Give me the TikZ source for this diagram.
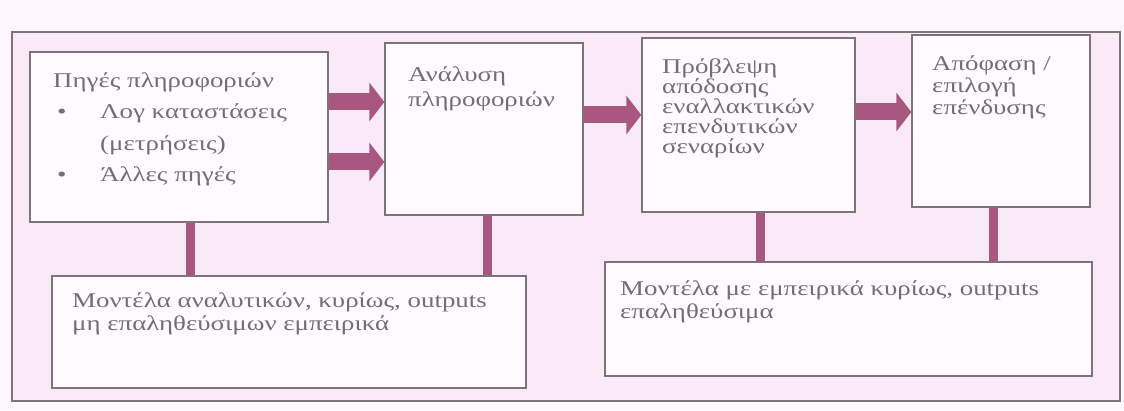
\documentclass[tikz,border=0pt]{standalone}
\usepackage{fontspec}
\setmainfont{Liberation Serif}
\newfontfamily\scanfont{Liberation Serif}[FakeStretch=1.28]
\usetikzlibrary{arrows.meta}
\begin{document}
\begin{tikzpicture}[
    x=1pt, y=1pt,
    box/.style={draw=boxline, fill=boxfill, line width=1.3pt, inner sep=0pt},
    txt/.style={anchor=north west, inner sep=0pt, text=txtgray, align=left,
        font=\scanfont\fontsize{21}{#1}\selectfont},
    txt/.default=22,
    fatarrow/.style={draw=mauve, line width=17pt, -{Triangle[length=15pt, width=38pt]}},
    link/.style={draw=mauve, line width=9pt}
]

% Colours of the scanned page
\definecolor{pagebg}{RGB}{253, 246, 252}
\definecolor{framebg}{RGB}{250, 233, 246}
\definecolor{boxfill}{RGB}{254, 250, 253}
\definecolor{boxline}{RGB}{125, 115, 122}
\definecolor{txtgray}{RGB}{115, 110, 115}
\definecolor{mauve}{RGB}{168, 88, 128}

% Page and outer frame
\fill[pagebg] (0, 0) rectangle (1124, 410);
\useasboundingbox (0, 0) rectangle (1124, 410);
\draw[boxline, fill=framebg, line width=1.3pt] (12, 9) rectangle (1120, 378);

% Top row of steps
\node[box, minimum width=298pt, minimum height=170pt] (b1) at (179, 273) {};
\node[box, minimum width=198pt, minimum height=172pt] (b2) at (484, 281) {};
\node[box, minimum width=213pt, minimum height=174pt] (b3) at (748.5, 285) {};
\node[box, minimum width=178pt, minimum height=172pt] (b4) at (1001, 289) {};

% Bottom row of models
\node[box, minimum width=474pt, minimum height=112pt] (m1) at (289, 78) {};
\node[box, minimum width=487pt, minimum height=114pt] (m2) at (848.5, 91) {};

% Texts
\node[txt=31.5] (b1t) at (53, 338) {Πηγές πληροφοριών\\
    \hspace*{4pt}\makebox[43pt][l]{•}Λογ καταστάσεις\\
    \hspace*{47pt}(μετρήσεις)\\
    \hspace*{4pt}\makebox[43pt][l]{•}Άλλες πηγές};
\node[txt=25] (b2t) at (408, 344) {Ανάλυση\\πληροφοριών};
\node[txt=20] (b3t) at (662, 352) {Πρόβλεψη\\απόδοσης\\εναλλακτικών\\επενδυτικών\\σεναρίων};
\node[txt] (b4t) at (932, 355) {Απόφαση /\\επιλογή\\επένδυσης};
\node[txt=23] (m1t) at (72, 118) {Μοντέλα αναλυτικών, κυρίως, outputs\\μη επαληθεύσιμων εμπειρικά};
\node[txt=23] (m2t) at (620, 130) {Μοντέλα με εμπειρικά κυρίως, outputs\\επαληθεύσιμα};

% Thick arrows between the steps
\draw[fatarrow] ([yshift=35pt]b1.east) -- ([yshift=35pt]b1.east -| b2.west);
\draw[fatarrow] ([yshift=-25pt]b1.east) -- ([yshift=-25pt]b1.east -| b2.west);
\draw[fatarrow] ([yshift=14pt]b2.east) -- ([yshift=14pt]b2.east -| b3.west);
\draw[fatarrow] ([yshift=13pt]b3.east) -- ([yshift=13pt]b3.east -| b4.west);

% Links down to the models
\draw[link] ([xshift=11pt]b1.south) -- ([xshift=11pt]b1.south |- m1.north);
\draw[link] ([xshift=3pt]b2.south) -- ([xshift=3pt]b2.south |- m1.north);
\draw[link] ([xshift=11.5pt]b3.south) -- ([xshift=11.5pt]b3.south |- m2.north);
\draw[link] ([xshift=-8pt]b4.south) -- ([xshift=-8pt]b4.south |- m2.north);

\end{tikzpicture}
\end{document}
